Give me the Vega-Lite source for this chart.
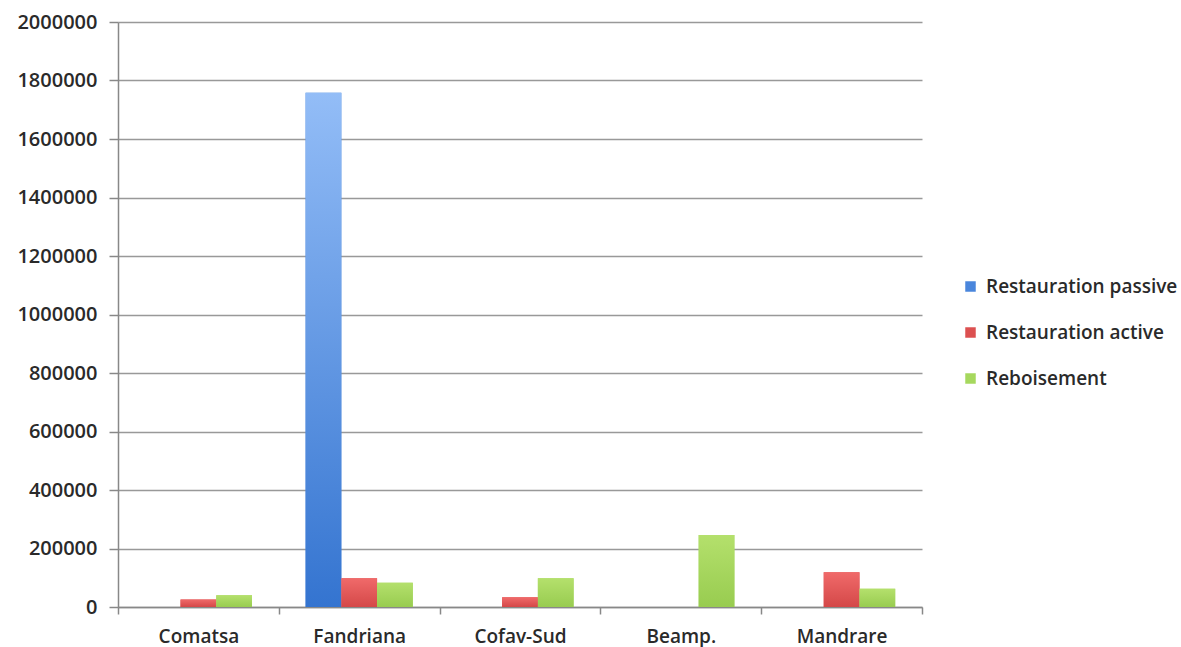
{
  "$schema": "https://vega.github.io/schema/vega-lite/v6.json",
  "autosize": "none",
  "width": 804,
  "height": 585,
  "padding": {"left": 118, "top": 22, "right": 259, "bottom": 40},
  "background": "white",
  "config": {
    "font": "Open Sans",
    "view": {"stroke": null}
  },
  "data": {
    "values": [
      {"site": "Comatsa", "type": "Restauration passive", "value": 0},
      {"site": "Comatsa", "type": "Restauration active", "value": 26000},
      {"site": "Comatsa", "type": "Reboisement", "value": 40000},
      {"site": "Fandriana", "type": "Restauration passive", "value": 1758000},
      {"site": "Fandriana", "type": "Restauration active", "value": 98000},
      {"site": "Fandriana", "type": "Reboisement", "value": 83000},
      {"site": "Cofav-Sud", "type": "Restauration passive", "value": 0},
      {"site": "Cofav-Sud", "type": "Restauration active", "value": 33000},
      {"site": "Cofav-Sud", "type": "Reboisement", "value": 98000},
      {"site": "Beamp.", "type": "Restauration passive", "value": 0},
      {"site": "Beamp.", "type": "Restauration active", "value": 0},
      {"site": "Beamp.", "type": "Reboisement", "value": 246000},
      {"site": "Mandrare", "type": "Restauration passive", "value": 0},
      {"site": "Mandrare", "type": "Restauration active", "value": 119000},
      {"site": "Mandrare", "type": "Reboisement", "value": 62000}
    ]
  },
  "encoding": {
    "x": {
      "field": "site",
      "type": "nominal",
      "sort": null,
      "scale": {"paddingInner": 0, "paddingOuter": 0},
      "axis": {
        "title": null,
        "labelAngle": 0,
        "labelFontSize": 19,
        "labelFontWeight": 600,
        "labelColor": "#2a2a2a",
        "labelPadding": 13,
        "tickBand": "extent",
        "tickSize": 7,
        "tickColor": "#888",
        "tickWidth": 1.5,
        "domainColor": "#888",
        "domainWidth": 1.5,
        "grid": false
      }
    },
    "xOffset": {
      "field": "type",
      "type": "nominal",
      "scale": {
        "domain": ["Restauration passive", "Restauration active", "Reboisement"],
        "paddingInner": 0,
        "paddingOuter": 0.75
      }
    },
    "y": {
      "field": "value",
      "type": "quantitative",
      "scale": {"domain": [0, 2000000], "nice": false},
      "axis": {
        "title": null,
        "values": [0, 200000, 400000, 600000, 800000, 1000000, 1200000, 1400000, 1600000, 1800000, 2000000],
        "format": "d",
        "labelFontSize": 20,
        "labelFontWeight": 600,
        "labelColor": "#2a2a2a",
        "labelPadding": 12,
        "tickSize": 9,
        "tickColor": "#888",
        "tickWidth": 1.5,
        "domainColor": "#888",
        "domainWidth": 1.5,
        "gridColor": "#999",
        "gridWidth": 1.5
      }
    }
  },
  "layer": [
    {
      "mark": {"type": "bar"},
      "encoding": {
        "color": {
          "field": "type",
          "type": "nominal",
          "scale": {
            "domain": ["Restauration passive", "Restauration active", "Reboisement"],
            "range": ["#4a86dc", "#dc5050", "#a6d85e"]
          },
          "legend": {
            "title": null,
            "orient": "none",
            "legendX": 843,
            "legendY": 255,
            "symbolType": "square",
            "symbolSize": 110,
            "symbolStrokeWidth": 0,
            "labelFontSize": 19,
            "labelFontWeight": 600,
            "labelColor": "#2a2a2a",
            "labelLimit": 400,
            "rowPadding": 26,
            "labelOffset": 6
          }
        }
      }
    },
    {
      "transform": [{"filter": "datum.type === 'Restauration passive'"}],
      "mark": {
        "type": "bar",
        "fill": {"gradient": "linear", "x1": 0, "y1": 0, "x2": 0, "y2": 1, "stops": [{"offset": 0, "color": "#93bdf7"}, {"offset": 1, "color": "#3474d0"}]}
      }
    },
    {
      "transform": [{"filter": "datum.type === 'Restauration active'"}],
      "mark": {
        "type": "bar",
        "fill": {"gradient": "linear", "x1": 0, "y1": 0, "x2": 0, "y2": 1, "stops": [{"offset": 0, "color": "#f06a6a"}, {"offset": 1, "color": "#d44848"}]}
      }
    },
    {
      "transform": [{"filter": "datum.type === 'Reboisement'"}],
      "mark": {
        "type": "bar",
        "fill": {"gradient": "linear", "x1": 0, "y1": 0, "x2": 0, "y2": 1, "stops": [{"offset": 0, "color": "#b4e06c"}, {"offset": 1, "color": "#98cc50"}]}
      }
    }
  ]
}
